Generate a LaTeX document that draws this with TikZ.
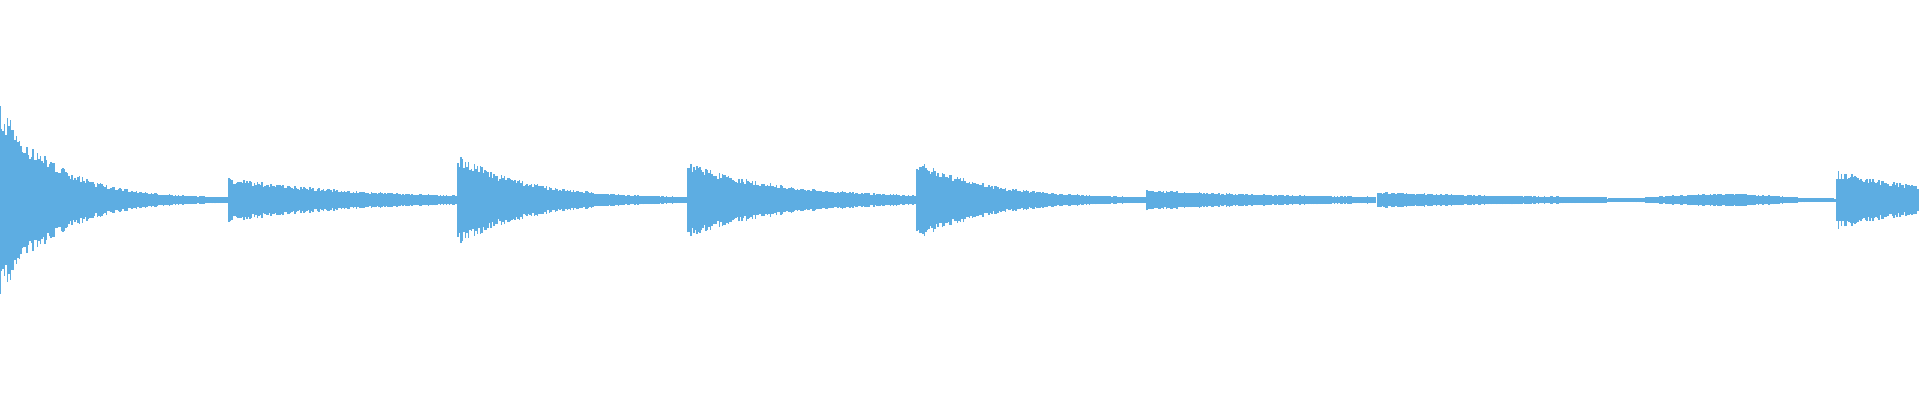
\documentclass[tikz,border=0pt]{standalone}
\usetikzlibrary{positioning}
\definecolor{wavecol}{RGB}{93,173,226}
\tikzset{
  bar/.style={draw=wavecol, line width=1.1pt},
  node distance=7mm
}
\begin{document}
\begin{tikzpicture}[x=1pt,y=1pt]
	\useasboundingbox (0,0) rectangle (1920,400);
	\pgfmathsetseed{7}
	% decaying hits
	\foreach \s/\a/\t/\n in {0/96/55/228, 229/22/120/228, 458/45/70/228, 688/37/95/228, 917/40/70/228, 1147/9/150/228, 1378/7/150/228, 1837/28/110/82}{
		\foreach \i in {0,1.5,...,\n}{
			\pgfmathsetmacro\h{1.5+\a*exp(-\i/\t)*(0.7+0.3*rnd)}
			\draw[bar] (\s+\i,200-\h) -- (\s+\i,200+\h);
		}
	}
	% swell
	\foreach \i in {0,1.5,...,228}{
		\pgfmathsetmacro\h{1.5+5*sin(0.789*\i)^2*(0.7+0.3*rnd)}
		\draw[bar] (1607+\i,200-\h) -- (1607+\i,200+\h);
	}
\end{tikzpicture}
\end{document}
